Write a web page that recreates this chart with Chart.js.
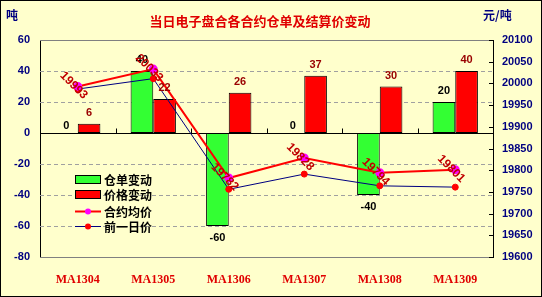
<!DOCTYPE html>
<html>
<head>
<meta charset="utf-8">
<script src="https://cdn.jsdelivr.net/npm/chart.js@4/dist/chart.umd.min.js"></script>
<style>
  body { margin: 0; background: #fff; }
  #wrap { width: 542px; height: 297px; }
</style>
</head>
<body>
<div id="wrap"><canvas id="chart" width="542" height="297"></canvas></div>
<script>
const categories = ["MA1304", "MA1305", "MA1306", "MA1307", "MA1308", "MA1309"];
const receiptChange = [0, 40, -60, 0, -40, 20];
const priceChange = [6, 22, 26, 37, 30, 40];
const avgPrice = [19993, 20033, 19782, 19828, 19794, 19801];
const prevPrice = [19987, 20011, 19756, 19791, 19764, 19761];

const titleText = "当日电子盘合各合约仓单及结算价变动";
const leftUnit = "吨";
const rightUnit = "元/吨";

const BG = "#FFFFCC";
const NUM_FONT = "bold 11px 'Liberation Sans', Arial, sans-serif";
const CJK_FONT = "bold 12px 'Noto Sans CJK SC', sans-serif";

// background, title, units, frame
const framePlugin = {
  id: "frame",
  beforeDraw(chart) {
    const ctx = chart.ctx;
    ctx.save();
    ctx.fillStyle = BG;
    ctx.fillRect(0, 0, chart.width, chart.height);
    ctx.restore();
  },
  afterDraw(chart) {
    const ctx = chart.ctx;
    ctx.save();
    ctx.textBaseline = "middle";
    ctx.fillStyle = "#E00000";
    ctx.font = "bold 13px 'Noto Sans CJK SC', sans-serif";
    ctx.textAlign = "center";
    ctx.fillText(titleText, 260, 21);
    ctx.fillStyle = "#000080";
    ctx.font = CJK_FONT;
    ctx.textAlign = "left";
    ctx.fillText(leftUnit, 6, 15);
    ctx.fillText(rightUnit, 483, 15);
    ctx.strokeStyle = "#000";
    ctx.lineWidth = 1;
    ctx.strokeRect(0.5, 0.5, chart.width - 1, chart.height - 1);
    ctx.restore();
  }
};

// plot border, dashed grid, zero line, inward ticks
const axisPlugin = {
  id: "axisExtras",
  beforeDatasetsDraw(chart) {
    const ctx = chart.ctx;
    const a = chart.chartArea;
    const y = chart.scales.y;
    const y2 = chart.scales.y2;
    ctx.save();
    ctx.lineWidth = 1;
    ctx.strokeStyle = "#A0A0A0";
    ctx.setLineDash([4, 3]);
    ctx.beginPath();
    y.ticks.forEach((t) => {
      if (t.value === 0 || t.value === y.max || t.value === y.min) return;
      const gy = Math.round(y.getPixelForValue(t.value)) + 0.5;
      ctx.moveTo(a.left, gy); ctx.lineTo(a.right, gy);
    });
    ctx.stroke();
    ctx.setLineDash([]);
    ctx.strokeStyle = "#808080";
    ctx.beginPath();
    ctx.moveTo(a.left, a.top + 0.5); ctx.lineTo(a.right, a.top + 0.5);
    ctx.moveTo(a.left, a.bottom + 0.5); ctx.lineTo(a.right, a.bottom + 0.5);
    ctx.stroke();
    ctx.strokeStyle = "#000";
    const zy = Math.round(y.getPixelForValue(0)) + 0.5;
    ctx.beginPath();
    ctx.moveTo(a.left, zy); ctx.lineTo(a.right, zy);
    const step = (a.right - a.left) / categories.length;
    for (let i = 1; i < categories.length; i++) {
      const tx = Math.round(a.left + step * i) + 0.5;
      ctx.moveTo(tx, zy); ctx.lineTo(tx, zy - 5);
    }
    y2.ticks.forEach((t) => {
      const ty = Math.round(y2.getPixelForValue(t.value)) + 0.5;
      ctx.moveTo(a.right - 4, ty); ctx.lineTo(a.right, ty);
    });
    ctx.stroke();
    ctx.restore();
  }
};

// value labels
const labelPlugin = {
  id: "valueLabels",
  afterDatasetsDraw(chart) {
    const ctx = chart.ctx;
    ctx.save();
    ctx.font = NUM_FONT;
    ctx.textAlign = "center";
    ctx.textBaseline = "middle";
    [0, 1].forEach((di) => {
      const ds = chart.data.datasets[di];
      chart.getDatasetMeta(di).data.forEach((el, i) => {
        const v = ds.data[i];
        let ly = el.y - 11;
        if (v === 0) ly = el.y - 7;
        if (v < 0) ly = el.y + 12;
        ctx.fillStyle = di === 0 ? "#000" : "#990000";
        ctx.fillText(String(v), el.x, ly);
      });
    });
    const ds = chart.data.datasets[2];
    ctx.font = "bold 12px 'Liberation Sans', Arial, sans-serif";
    chart.getDatasetMeta(2).data.forEach((el, i) => {
      ctx.save();
      ctx.translate(el.x - 4, el.y - 1);
      ctx.rotate(Math.PI / 4);
      ctx.fillStyle = "#C00000";
      ctx.fillText(String(ds.data[i]), 0, 0);
      ctx.restore();
    });
    ctx.restore();
  }
};

// legend inside plot
const legendPlugin = {
  id: "innerLegend",
  afterDraw(chart) {
    const ctx = chart.ctx;
    const dss = chart.data.datasets;
    const rows = [179, 194, 211, 226];
    ctx.save();
    ctx.font = CJK_FONT;
    ctx.textBaseline = "middle";
    ctx.textAlign = "left";
    dss.forEach((ds, i) => {
      const ry = rows[i];
      if (ds.type === "bar") {
        ctx.fillStyle = ds.backgroundColor;
        ctx.fillRect(75, ry - 4, 25, 8);
        ctx.strokeStyle = "#000";
        ctx.lineWidth = 1;
        ctx.strokeRect(75.5, ry - 3.5, 25, 8);
      } else {
        ctx.strokeStyle = ds.borderColor;
        ctx.lineWidth = ds.borderWidth;
        ctx.beginPath();
        ctx.moveTo(75, ry + 0.5); ctx.lineTo(101, ry + 0.5);
        ctx.stroke();
        ctx.fillStyle = ds.pointBackgroundColor;
        ctx.beginPath();
        ctx.arc(88, ry + 0.5, 3, 0, Math.PI * 2);
        ctx.fill();
      }
      ctx.fillStyle = "#000";
      ctx.fillText(ds.label, 104, ry + 1);
    });
    ctx.restore();
  }
};

new Chart(document.getElementById("chart"), {
  data: {
    labels: categories,
    datasets: [
      {
        type: "bar", label: "仓单变动", data: receiptChange, yAxisID: "y",
        backgroundColor: "#33FF33", borderColor: "#000", borderWidth: 1,
        borderSkipped: false, categoryPercentage: 0.6, barPercentage: 1.0, order: 2
      },
      {
        type: "bar", label: "价格变动", data: priceChange, yAxisID: "y",
        backgroundColor: "#FF0000", borderColor: "#000", borderWidth: 1,
        borderSkipped: false, categoryPercentage: 0.6, barPercentage: 1.0, order: 2
      },
      {
        type: "line", label: "合约均价", data: avgPrice, yAxisID: "y2",
        borderColor: "#FF0000", borderWidth: 2, pointBackgroundColor: "#FF00FF",
        pointBorderColor: "#FF00FF", pointRadius: 3.5, tension: 0, order: 0
      },
      {
        type: "line", label: "前一日价", data: prevPrice, yAxisID: "y2",
        borderColor: "#000080", borderWidth: 1, pointBackgroundColor: "#FF0000",
        pointBorderColor: "#FF0000", pointRadius: 3, tension: 0, order: 1
      }
    ]
  },
  options: {
    responsive: false,
    animation: false,
    layout: { padding: { top: 40, left: 0, right: 0, bottom: 0 } },
    plugins: { legend: { display: false }, title: { display: false }, tooltip: { enabled: false } },
    scales: {
      x: {
        offset: true,
        grid: { display: false },
        border: { display: false },
        ticks: { color: "#E00000", font: { family: "'Liberation Serif', serif", weight: "bold", size: 12 }, padding: 8, maxRotation: 0 },
        afterFit(s) { s.height = 40; }
      },
      y: {
        position: "left", min: -80, max: 60,
        ticks: { stepSize: 20, color: "#000080", font: { family: "'Liberation Sans', Arial", weight: "bold", size: 11 }, padding: 10 },
        grid: { display: false, drawTicks: false },
        border: { display: true, color: "#000", width: 1 },
        afterFit(s) { s.width = 40; }
      },
      y2: {
        position: "right", min: 19600, max: 20100,
        ticks: {
          stepSize: 50, color: "#000080", padding: 9,
          font: { family: "'Liberation Sans', Arial", weight: "bold", size: 11 },
          callback: (v) => String(v)
        },
        grid: { display: false, drawTicks: false },
        border: { display: true, color: "#000", width: 1 },
        afterFit(s) { s.width = 49; }
      }
    }
  },
  plugins: [framePlugin, axisPlugin, labelPlugin, legendPlugin]
});
</script>
</body>
</html>
